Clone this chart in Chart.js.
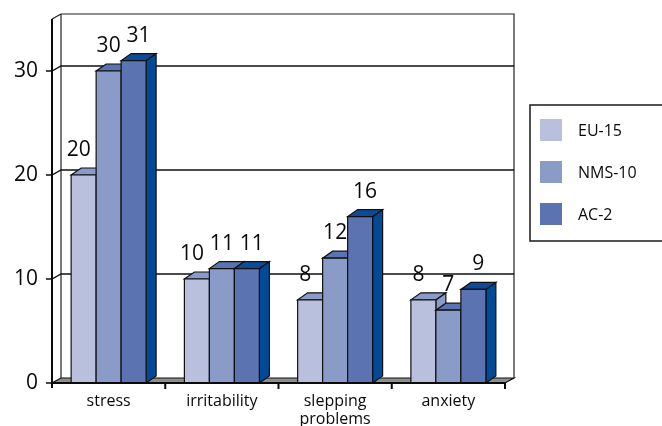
<!DOCTYPE html>
<html>
<head>
<meta charset="utf-8">
<style>
  html, body { margin: 0; padding: 0; background: #ffffff; overflow: hidden; }
  canvas { display: block; }
</style>
<script src="https://cdn.jsdelivr.net/npm/chart.js@4.4.1/dist/chart.umd.min.js"></script>
</head>
<body>
<canvas id="chart" width="662" height="426"></canvas>
<script>
// Symptoms by country group
const categories = ['stress', 'irritability', ['slepping', 'problems'], 'anxiety'];
const seriesNames = ['EU-15', 'NMS-10', 'AC-2'];
const eu15 = [20, 10, 8, 8];
const nms10 = [30, 11, 12, 7];
const ac2 = [31, 11, 16, 9];
const yTicks = [0, 10, 20, 30];
const yMax = 35;

// Face / top / side shades for each series
const faceColors = ['#b9c0de', '#8a9bc8', '#5b74b1'];
const topColors = ['#8a9bc8', '#5b74b1', '#0d4b99'];
const sideColors = ['#8a9bc8', '#5b74b1', '#004a98'];

const FONT = '"Open Sans", "DejaVu Sans", sans-serif';
const WALL_DX = 9, WALL_DY = -5;   // depth of the back wall and floor
const BAR_DX = 10, BAR_DY = -7;    // depth of each bar

function poly(ctx, pts) {
  ctx.beginPath();
  ctx.moveTo(pts[0][0], pts[0][1]);
  for (let i = 1; i < pts.length; i++) ctx.lineTo(pts[i][0], pts[i][1]);
  ctx.closePath();
}

// Draws the back wall, floor and extruded bars in place of the flat bars
const depthBars = {
  id: 'depthBars',
  beforeDatasetsDraw(chart) {
    const ctx = chart.ctx;
    const { left, right, top, bottom } = chart.chartArea;
    const ys = chart.scales.y;
    ctx.save();

    // floor
    poly(ctx, [[left, bottom], [right, bottom], [right + WALL_DX, bottom + WALL_DY], [left + WALL_DX, bottom + WALL_DY]]);
    ctx.fillStyle = '#8e8e8e';
    ctx.fill();
    ctx.lineWidth = 1.2;
    ctx.strokeStyle = '#111111';
    ctx.stroke();

    // back wall outline
    ctx.beginPath();
    ctx.moveTo(left + WALL_DX, bottom + WALL_DY);
    ctx.lineTo(left + WALL_DX, top + WALL_DY);
    ctx.lineTo(right + WALL_DX, top + WALL_DY);
    ctx.lineTo(right + WALL_DX, bottom + WALL_DY);
    ctx.moveTo(left, top);
    ctx.lineTo(left + WALL_DX, top + WALL_DY);
    ctx.strokeStyle = '#222222';
    ctx.stroke();

    // gridlines on the wall with their tick marks
    ctx.beginPath();
    yTicks.forEach(v => {
      const py = ys.getPixelForValue(v);
      ctx.moveTo(left - 6, py);
      ctx.lineTo(left, py);
      if (v !== 0) {
        ctx.lineTo(left + WALL_DX, py + WALL_DY);
        ctx.lineTo(right + WALL_DX, py + WALL_DY);
      }
    });
    ctx.strokeStyle = '#111111';
    ctx.lineWidth = 1.3;
    ctx.stroke();

    // bars: category by category, series left to right
    const metas = chart.data.datasets.map((d, i) => chart.getDatasetMeta(i));
    const n = chart.data.labels.length;
    ctx.lineWidth = 1.2;
    ctx.strokeStyle = '#111111';
    ctx.lineJoin = 'miter';
    for (let j = 0; j < n; j++) {
      metas.forEach((meta, i) => {
        const el = meta.data[j];
        const x0 = el.x - el.width / 2, x1 = el.x + el.width / 2;
        const yt = el.y, yb = el.base;
        poly(ctx, [[x1, yt], [x1 + BAR_DX, yt + BAR_DY], [x1 + BAR_DX, yb + BAR_DY], [x1, yb]]);
        ctx.fillStyle = sideColors[i];
        ctx.fill(); ctx.stroke();
        poly(ctx, [[x0, yt], [x1, yt], [x1 + BAR_DX, yt + BAR_DY], [x0 + BAR_DX, yt + BAR_DY]]);
        ctx.fillStyle = topColors[i];
        ctx.fill(); ctx.stroke();
        poly(ctx, [[x0, yt], [x1, yt], [x1, yb], [x0, yb]]);
        ctx.fillStyle = faceColors[i];
        ctx.fill(); ctx.stroke();
      });
    }

    // value labels
    ctx.fillStyle = '#0a0a0a';
    ctx.font = '21px ' + FONT;
    ctx.textAlign = 'center';
    ctx.textBaseline = 'alphabetic';
    metas.forEach((meta, i) => {
      const values = chart.data.datasets[i].data;
      meta.data.forEach((el, j) => {
        ctx.fillText(String(values[j]), el.x + (i - 1) * 5, el.y - 19);
      });
    });

    ctx.restore();
    return false;
  },
  afterDraw(chart) {
    const ctx = chart.ctx;
    const { left, right, bottom, top } = chart.chartArea;
    ctx.save();
    // front axes
    ctx.strokeStyle = '#0a0a0a';
    ctx.lineWidth = 2;
    ctx.beginPath();
    ctx.moveTo(left, top);
    ctx.lineTo(left, bottom + 5);
    ctx.moveTo(left, bottom);
    ctx.lineTo(right, bottom);
    const n = chart.data.labels.length;
    const cw = (right - left) / n;
    for (let k = 1; k <= n; k++) {
      const px = left + k * cw;
      ctx.moveTo(px, bottom);
      ctx.lineTo(px, bottom + 6);
    }
    ctx.stroke();

    // legend box
    const lx = 530, ly = 105, lh = 136;
    ctx.lineWidth = 1.5;
    ctx.strokeStyle = '#1a1a1a';
    ctx.strokeRect(lx, ly, 160, lh);
    ctx.font = '16px ' + FONT;
    ctx.textAlign = 'left';
    ctx.textBaseline = 'middle';
    chart.data.datasets.forEach((d, i) => {
      const cy = 130 + i * 42;
      ctx.fillStyle = d.backgroundColor;
      ctx.fillRect(540, cy - 11, 22, 22);
      ctx.fillStyle = '#0a0a0a';
      ctx.fillText(d.label, 578, cy + 1);
    });
    ctx.restore();
  }
};

new Chart(document.getElementById('chart'), {
  type: 'bar',
  data: {
    labels: categories,
    datasets: [
      { label: seriesNames[0], data: eu15, backgroundColor: faceColors[0] },
      { label: seriesNames[1], data: nms10, backgroundColor: faceColors[1] },
      { label: seriesNames[2], data: ac2, backgroundColor: faceColors[2] }
    ]
  },
  options: {
    responsive: false,
    animation: false,
    devicePixelRatio: 1,
    layout: { padding: { left: 0, top: 19, right: 157, bottom: 0 } },
    categoryPercentage: 0.662,
    barPercentage: 1,
    plugins: { legend: { display: false }, tooltip: { enabled: false } },
    scales: {
      x: {
        grid: { display: false, drawTicks: false },
        border: { display: false },
        ticks: {
          color: '#0a0a0a',
          font: { family: FONT, size: 16, lineHeight: 1.15 },
          padding: 9,
          maxRotation: 0,
          autoSkip: false
        },
        afterFit(scale) {
          scale.height = 43;
          scale.paddingLeft = 0;
          scale.paddingRight = 0;
        }
      },
      y: {
        min: 0,
        max: yMax,
        grid: { display: false, drawTicks: false },
        border: { display: false },
        ticks: {
          stepSize: 10,
          color: '#0a0a0a',
          font: { family: FONT, size: 21 },
          padding: 14,
          callback: v => (yTicks.includes(v) ? String(v) : '')
        },
        afterFit(scale) {
          scale.width = 52;
          scale.paddingTop = 0;
          scale.paddingBottom = 0;
        }
      }
    }
  },
  plugins: [depthBars]
});
</script>
</body>
</html>
